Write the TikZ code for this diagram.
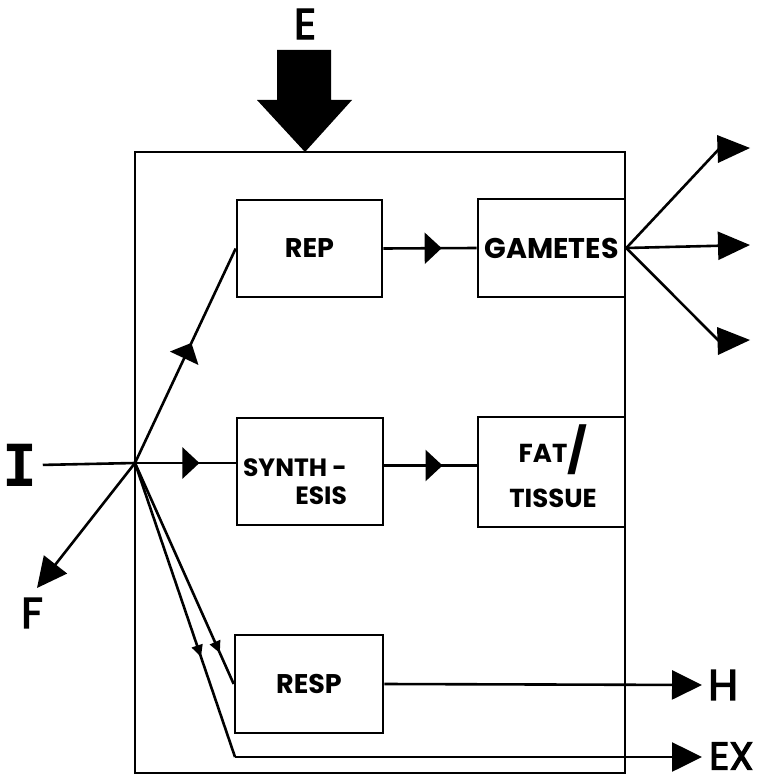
\documentclass[tikz,border=0pt]{standalone}
\usepackage{fontspec}
\setmainfont{Poppins}
\newfontfamily\labfont[FakeBold=3]{Poppins}
\newfontfamily\monofnt{DejaVu Sans Mono}
\usetikzlibrary{arrows.meta,decorations.markings}
\begin{document}
\begin{tikzpicture}[x=1pt,y=-1pt,
  line width=2.6pt, line join=miter,
  box/.style={draw, line width=2.6pt, inner sep=0pt, align=center,
    font=\fontsize{27}{28}\selectfont\bfseries},
  boxtext/.style={inner sep=0pt, font=\fontsize{25}{28}\selectfont\bfseries},
  lbl/.style={font=\labfont\fontsize{43}{44}\selectfont, inner sep=0pt},
  midarr/.style={postaction={decorate}, decoration={markings,
    mark=at position #1 with {\arrow{Triangle[length=17pt,width=31pt]}}}},
  smallarr/.style={postaction={decorate}, decoration={markings,
    mark=at position #1 with {\arrow{Triangle[length=12pt,width=11pt]}}}},
  endarr/.style={-{Triangle[length=30pt,width=29pt]}},
]
\useasboundingbox (0,0) rectangle (768,783);

% main frame
\node[draw, minimum width=490pt, minimum height=621pt, inner sep=0pt] (main) at (380,462.5) {};

% boxes
\node[box, minimum width=145pt, minimum height=97pt] (rep) at (309.5,248.5) {REP};
\node[box, minimum width=147pt, minimum height=98pt,
  font=\fontsize{28.5}{29}\selectfont\bfseries] (gam) at (551.5,248) {GAMETES};
\node[box, minimum width=146pt, minimum height=107pt] (syn) at (310,471.5) {};
\node[boxtext, align=right] (syntxt) at (295,482) {SYNTH -\\ESIS};
\node[box, minimum width=147pt, minimum height=110pt] (fat) at (551.5,472) {};
\node[boxtext, align=center, font=\fontsize{26}{45}\selectfont\bfseries] (fattxt) at (553,466)
  {FAT{\fontsize{44}{44}\selectfont\raisebox{-4pt}{/}}\\TISSUE};
\node[box, minimum width=148pt, minimum height=98pt] (resp) at (309,684) {RESP};

% energy arrow
\fill (277,50) -- (331,50) -- (331,100) -- (352,100) -- (305,152) -- (257,100) -- (277,100) -- cycle;

% coordinates
\coordinate (j) at (135,463);
\coordinate (ft) at (37,588);
\coordinate (ht) at (702,685);
\coordinate (exc) at (235,757);
\coordinate (ext) at (702,757);
\coordinate (g1) at (719,149);
\coordinate (g2) at (750,245);
\coordinate (g3) at (719,341);

% labels
\node[lbl] (E) at (305,24) {E};
\node[inner sep=0pt, font=\monofnt\bfseries\fontsize{58}{58}\selectfont] (I) at (20,465) {I};
\node[lbl] (F) at (32,613) {F};
\node[lbl, anchor=west] (H) at (707,685) {H};
\node[lbl, anchor=west, font=\labfont\fontsize{39}{40}\selectfont] (EX) at (708,756) {EX};

% connectors
\draw[shorten <=4pt] (I.east) -- (j);
\draw[midarr=0.56] (j) -- (rep.west);
\draw[midarr=0.64] (j) -- (j -| syn.west);
\draw[smallarr=0.86] (j) -- (resp.west);
\draw[smallarr=0.66] (j) -- (exc);
\draw[endarr] (exc) -- (ext);
\draw[endarr] (j) -- (ft);
\draw[midarr=0.625] (rep.east) -- (gam.west);
\draw[midarr=0.63] ([yshift=6pt]syn.east) -- ([yshift=6pt]syn.east -| fat.west);
\draw[endarr] (resp.east) -- (ht);

% gametes fan
\draw (gam.east) -- (g1);
\fill ([xshift=-2pt,yshift=14pt]g1) -- ([xshift=31pt,yshift=1pt]g1) -- ([xshift=-1pt,yshift=-14pt]g1) -- cycle;
\draw[-{Triangle[length=32pt,width=28pt]}] (gam.east) -- (g2);
\draw (gam.east) -- (g3);
\fill ([xshift=-2pt,yshift=14pt]g3) -- ([xshift=31pt,yshift=1pt]g3) -- ([xshift=-1pt,yshift=-14pt]g3) -- cycle;
\end{tikzpicture}
\end{document}
